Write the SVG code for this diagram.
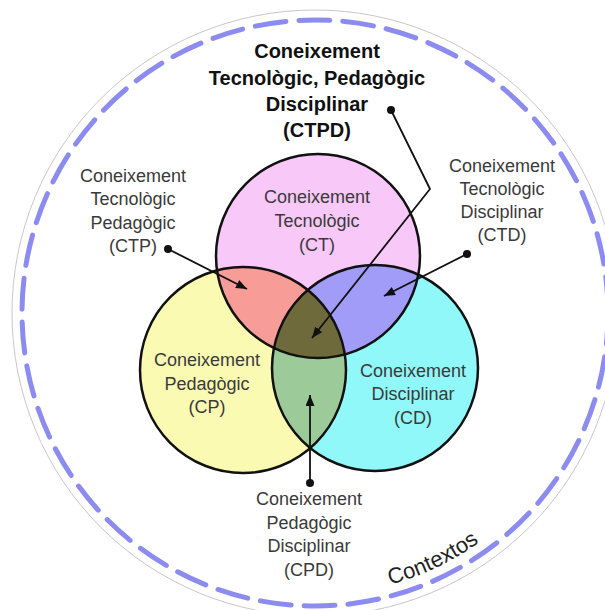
<svg xmlns="http://www.w3.org/2000/svg" width="605" height="610" viewBox="0 0 605 610">
<style>
.lbl{font-family:"Liberation Sans",Arial,sans-serif;font-size:18px;fill:#3a3a3a;text-anchor:middle}
.ttl{font-family:"Liberation Sans",Arial,sans-serif;font-size:20px;font-weight:bold;fill:#111;text-anchor:middle}
.ring{fill:none;stroke:#111;stroke-width:2.5}
.conn{fill:none;stroke:#111;stroke-width:1.8;marker-start:url(#dot);marker-end:url(#arr)}
</style>
<defs>
<clipPath id="clipCT"><circle cx="318" cy="256" r="102"/></clipPath>
<clipPath id="clipCP"><circle cx="243" cy="370" r="103"/></clipPath>
<clipPath id="clipCD"><circle cx="375" cy="368" r="103"/></clipPath>
<marker id="arr" markerUnits="userSpaceOnUse" markerWidth="12" markerHeight="10" refX="11" refY="4.5" orient="auto"><path d="M0,0 L11,4.5 L0,9 z" fill="#111"/></marker>
<marker id="dot" markerUnits="userSpaceOnUse" markerWidth="10" markerHeight="10" refX="5" refY="5"><circle cx="5" cy="5" r="4" fill="#111"/></marker>
<path id="ctxPath" d="M390.3,584.7 A282,282 0 0 0 559.2,454"/>
</defs>
<rect width="605" height="610" fill="#fff"/>
<g id="contextos">
<circle cx="315" cy="313" r="303" fill="none" stroke="#c8c8c8" stroke-width="1"/>
<circle cx="315" cy="313" r="293" fill="none" stroke="#8c8cf0" stroke-width="5" stroke-dasharray="31 13" stroke-linecap="round"/>
<text font-family="'Liberation Sans',Arial,sans-serif" font-size="22" fill="#222"><textPath href="#ctxPath">Contextos</textPath></text>
</g>
<g id="ct"><circle cx="318" cy="256" r="102" fill="#f8c8f8"/></g>
<g id="cp"><circle cx="243" cy="370" r="103" fill="#fafab2"/></g>
<g id="cd"><circle cx="375" cy="368" r="103" fill="#90f8f8"/></g>
<g id="ctp"><circle cx="243" cy="370" r="103" fill="#f89c98" clip-path="url(#clipCT)"/></g>
<g id="ctd"><circle cx="375" cy="368" r="103" fill="#a09cf8" clip-path="url(#clipCT)"/></g>
<g id="cpd"><circle cx="375" cy="368" r="103" fill="#9cca98" clip-path="url(#clipCP)"/></g>
<g id="ctpd"><g clip-path="url(#clipCP)"><circle cx="375" cy="368" r="103" fill="#6e6a3c" clip-path="url(#clipCT)"/></g></g>
<g id="outlines">
<circle class="ring" cx="318" cy="256" r="102"/>
<circle class="ring" cx="243" cy="370" r="103"/>
<circle class="ring" cx="375" cy="368" r="103"/>
</g>
<g id="labels">
<text class="ttl" x="317" y="58">Coneixement</text>
<text class="ttl" x="317" y="84.5">Tecnològic, Pedagògic</text>
<text class="ttl" x="317" y="111">Disciplinar</text>
<text class="ttl" x="317" y="137">(CTPD)</text>
<text class="lbl" x="133" y="181.5">Coneixement</text>
<text class="lbl" x="133" y="205">Tecnològic</text>
<text class="lbl" x="133" y="228.5">Pedagògic</text>
<text class="lbl" x="133" y="252">(CTP)</text>
<text class="lbl" x="317" y="203">Coneixement</text>
<text class="lbl" x="317" y="227">Tecnològic</text>
<text class="lbl" x="317" y="250.5">(CT)</text>
<text class="lbl" x="502" y="171.5">Coneixement</text>
<text class="lbl" x="502" y="195">Tecnològic</text>
<text class="lbl" x="502" y="218">Disciplinar</text>
<text class="lbl" x="502" y="241">(CTD)</text>
<text class="lbl" x="207" y="366">Coneixement</text>
<text class="lbl" x="207" y="389.5">Pedagògic</text>
<text class="lbl" x="207" y="413">(CP)</text>
<text class="lbl" x="413" y="377">Coneixement</text>
<text class="lbl" x="413" y="400">Disciplinar</text>
<text class="lbl" x="413" y="424">(CD)</text>
<text class="lbl" x="309" y="505">Coneixement</text>
<text class="lbl" x="309" y="528.5">Pedagògic</text>
<text class="lbl" x="309" y="552">Disciplinar</text>
<text class="lbl" x="309" y="575.5">(CPD)</text>
</g>
<g id="connectors">
<path class="conn" d="M391,110 L430,189 L312,338"/>
<path class="conn" d="M168,249 L247,289"/>
<path class="conn" d="M467,254 L384,296"/>
<path class="conn" d="M310,483 L310,395"/>
</g>
</svg>
